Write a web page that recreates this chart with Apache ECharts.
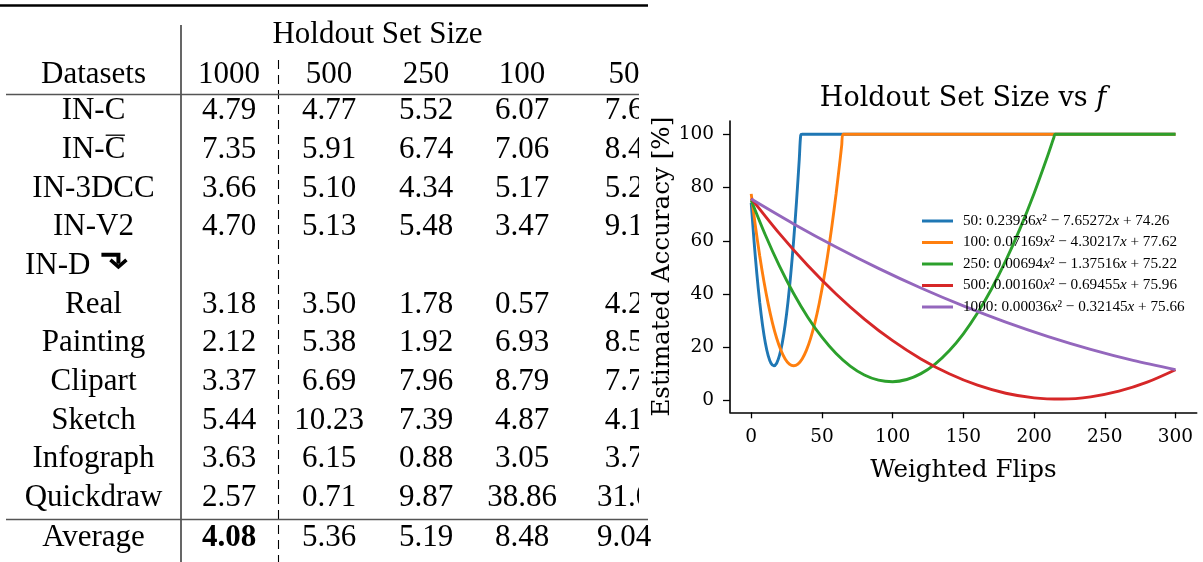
<!DOCTYPE html>
<html><head><meta charset="utf-8">
<script src="https://cdn.jsdelivr.net/npm/echarts@6/dist/echarts.min.js"></script>
<style>html,body{margin:0;padding:0;background:#fff}#c{width:1203px;height:562px}</style>
</head><body><div id="c"></div>
<script>
// ---------------- table data ----------------
const tableGroupHeader = 'Holdout Set Size';
const tableFirstHeader = 'Datasets';
const holdoutSizes = ['1000', '500', '250', '100', '50'];
const datasetNames = ['IN-C', 'IN-C\u0305', 'IN-3DCC', 'IN-V2', 'IN-D', 'Real', 'Painting', 'Clipart', 'Sketch', 'Infograph', 'Quickdraw'];
const rowValues = [
  ['4.79', '4.77', '5.52', '6.07', '7.6'],
  ['7.35', '5.91', '6.74', '7.06', '8.4'],
  ['3.66', '5.10', '4.34', '5.17', '5.2'],
  ['4.70', '5.13', '5.48', '3.47', '9.1'],
  [],
  ['3.18', '3.50', '1.78', '0.57', '4.2'],
  ['2.12', '5.38', '1.92', '6.93', '8.5'],
  ['3.37', '6.69', '7.96', '8.79', '7.7'],
  ['5.44', '10.23', '7.39', '4.87', '4.1'],
  ['3.63', '6.15', '0.88', '3.05', '3.7'],
  ['2.57', '0.71', '9.87', '38.86', '31.0']
];
const groupRows = [4];            // "IN-D" row with turn-down arrow (group header, left aligned)
const averageLabel = 'Average';
const averageValues = ['4.08', '5.36', '5.19', '8.48', '9.04'];
const averageBestIndex = 0;        // bold

// ---------------- chart data ----------------
const chartTitle = 'Holdout Set Size vs ';
const chartTitleVar = 'f';
const xAxisName = 'Weighted Flips';
const yAxisName = 'Estimated Accuracy [%]';
const xTicks = [0, 50, 100, 150, 200, 250, 300];
const yTicks = [0, 20, 40, 60, 80, 100];
const seriesNames = ['50', '100', '250', '500', '1000'];
const coefA = ['0.23936', '0.07169', '0.00694', '0.00160', '0.00036'];
const coefB = ['7.65272', '4.30217', '1.37516', '0.69455', '0.32145'];
const coefC = ['74.26', '77.62', '75.22', '75.96', '75.66'];

const flips50 = [0, 2, 4, 6, 8, 10, 12, 14, 16, 18, 20, 22, 24, 26, 28, 30, 32, 34, 35, 36, 300];
const acc50 = [74.26, 59.91, 47.48, 36.96, 28.36, 21.67, 16.90, 14.04, 13.09, 14.06, 16.95, 21.75, 28.47, 37.10, 47.64, 60.10, 74.48, 90.77, 99.63, 100, 100];
const flips100 = [0, 3, 6, 9, 12, 15, 18, 21, 24, 27, 30, 33, 36, 39, 42, 45, 48, 51, 54, 57, 60, 63, 64, 65, 300];
const acc100 = [77.62, 65.36, 54.39, 44.71, 36.32, 29.22, 23.41, 18.89, 15.66, 13.72, 13.08, 13.72, 15.65, 18.88, 23.39, 29.20, 36.29, 44.68, 54.35, 65.32, 77.57, 91.12, 95.92, 100, 100];
const flips250 = [0, 10, 20, 30, 40, 50, 60, 70, 80, 90, 100, 110, 120, 130, 140, 150, 160, 170, 180, 190, 200, 210, 214, 215, 300];
const acc250 = [75.22, 62.16, 50.49, 40.21, 31.32, 23.81, 17.69, 12.97, 9.62, 7.67, 7.10, 7.93, 10.14, 13.74, 18.72, 25.10, 32.86, 42.01, 52.55, 64.47, 77.79, 92.49, 98.76, 100, 100];
const flips500 = [0, 20, 40, 60, 80, 100, 120, 140, 160, 180, 200, 220, 240, 260, 280, 300];
const acc500 = [75.96, 62.71, 50.74, 40.05, 30.64, 22.51, 15.65, 10.08, 5.79, 2.78, 1.05, 0.60, 1.43, 3.54, 6.93, 11.60];
const flips1000 = [0, 30, 60, 90, 120, 150, 180, 210, 240, 270, 300];
const acc1000 = [75.66, 66.34, 57.67, 49.65, 42.27, 35.54, 29.46, 24.03, 19.25, 15.11, 11.63];

// ---------------- styles / layout ----------------
const seriesColors = ['#1f77b4', '#ff7f0e', '#2ca02c', '#d62728', '#9467bd'];
const seriesX = [flips50, flips100, flips250, flips500, flips1000];
const seriesY = [acc50, acc100, acc250, acc500, acc1000];
const TFONT = "'Liberation Serif', 'Times New Roman', serif";
const CFONT = "'DejaVu Serif', serif";
const TSIZE = 31;
const labelColX = 93.5;
const valueColX = [229, 329, 426, 522, 624];
const firstRowY = 111, rowStep = 38.7;

const measureCtx = document.createElement('canvas').getContext('2d');
function textWidth(t, size, family, weight) {
  measureCtx.font = (weight || 'normal') + ' ' + size + 'px ' + family;
  return measureCtx.measureText(t).width;
}
function T(x, y, text, extra) {
  return {
    type: 'text', x: x, y: y, z: 1, silent: true,
    style: Object.assign({ text: text, fontFamily: TFONT, fontSize: TSIZE, fill: '#000', align: 'center', verticalAlign: 'middle' }, extra || {})
  };
}
function L(x1, y1, x2, y2, w, color, dash) {
  return { type: 'line', z: 1, silent: true, shape: { x1: x1, y1: y1, x2: x2, y2: y2 },
    style: { stroke: color || '#000', lineWidth: w, lineDash: dash || null } };
}

const els = [];
els.push(L(0, 5.5, 648, 5.5, 2.6));
els.push(L(181, 25, 181, 562, 1.2));
els.push(L(278.5, 60, 278.5, 562, 1.1, '#000', [9, 6]));
els.push(L(6, 94.5, 648, 94.5, 1.6, '#555'));
els.push(L(6, 519.5, 648, 519.5, 1.6, '#555'));
els.push(T(377.5, 35, tableGroupHeader));
els.push(T(labelColX, 75, tableFirstHeader));
holdoutSizes.forEach((h, j) => els.push(T(valueColX[j], 75, h)));
datasetNames.forEach((name, i) => {
  const y = firstRowY + i * rowStep;
  if (groupRows.indexOf(i) >= 0) {
    els.push(T(25, y, name, { align: 'left' }));
    const ax = 25 + textWidth(name, TSIZE, TFONT) + 11;
    // turn-down arrow icon
    els.push({ type: 'polyline', z: 1, silent: true,
      shape: { points: [[ax, y - 11], [ax + 17, y - 11], [ax + 17, y - 2]] },
      style: { stroke: '#000', lineWidth: 4, fill: null, lineJoin: 'miter' } });
    els.push({ type: 'polyline', z: 1, silent: true,
      shape: { points: [[ax + 9, y - 6], [ax + 17, y + 1], [ax + 25, y - 6]] },
      style: { stroke: '#000', lineWidth: 3.6, fill: null, lineJoin: 'miter' } });
  } else if (name.indexOf('\u0305') >= 0) {
    const plain = name.replace('\u0305', '');
    els.push(T(labelColX, y, plain));
    const w = textWidth(plain, TSIZE, TFONT);
    const wl = textWidth(plain.slice(-1), TSIZE, TFONT);
    const right = labelColX + w / 2;
    els.push(L(right - wl + 1, y - 14.5, right - 0.5, y - 14.5, 1.3));
  } else {
    els.push(T(labelColX, y, name));
  }
  rowValues[i].forEach((v, j) => els.push(T(valueColX[j], y, v)));
});
els.push(T(labelColX, 538, averageLabel));
averageValues.forEach((v, j) => els.push(T(valueColX[j], 538, v, j === averageBestIndex ? { fontWeight: 'bold' } : {})));
// the chart panel covers the right edge of the table
els.push({ type: 'rect', z: 2, silent: true, shape: { x: 639, y: 14, width: 564, height: 494 }, style: { fill: '#fff' } });
// chart title
els.push({ type: 'text', z: 3, silent: true, x: 963, y: 99,
  style: { text: '{a|' + chartTitle + '}{b|' + chartTitleVar + '}', align: 'center', verticalAlign: 'middle',
    rich: { a: { fontFamily: CFONT, fontSize: 27, fill: '#000' }, b: { fontFamily: CFONT, fontStyle: 'italic', fontSize: 27, fill: '#000' } } } });

const chart = echarts.init(document.getElementById('c'));
chart.setOption({
  animation: false,
  backgroundColor: '#fff',
  grid: { left: 730, top: 121, width: 466.7, height: 291.3, outerBoundsMode: 'none' },
  xAxis: {
    type: 'value', min: -15, max: 315, z: 5,
    axisLine: { show: true, onZero: false, lineStyle: { color: '#000', width: 1.6 } },
    axisTick: { show: true, customValues: xTicks, length: 6, lineStyle: { color: '#000', width: 1.3 } },
    axisLabel: { customValues: xTicks, fontFamily: CFONT, fontSize: 18.5, color: '#000', margin: 15 },
    splitLine: { show: false },
    name: xAxisName, nameLocation: 'middle', nameGap: 46,
    nameTextStyle: { fontFamily: CFONT, fontSize: 24.6, color: '#000' }
  },
  yAxis: {
    type: 'value', min: -4.38, max: 104.97, z: 5,
    axisLine: { show: true, onZero: false, lineStyle: { color: '#000', width: 1.6 } },
    axisTick: { show: true, customValues: yTicks, length: 7, lineStyle: { color: '#000', width: 1.3 } },
    axisLabel: { customValues: yTicks, fontFamily: CFONT, fontSize: 18.5, color: '#000', margin: 16 },
    splitLine: { show: false },
    name: yAxisName, nameLocation: 'middle', nameGap: 55,
    nameTextStyle: { fontFamily: CFONT, fontSize: 24.6, color: '#000' }
  },
  legend: {
    orient: 'vertical', left: 922, top: 213, padding: 0, itemGap: 5.5, z: 7,
    itemWidth: 31, itemHeight: 3, icon: 'rect', selectedMode: false,
    data: seriesNames,
    formatter: function (name) {
      const k = seriesNames.indexOf(name);
      return '{n|' + name + ': ' + coefA[k] + '}{i|x}{n|\u00B2 \u2212 ' + coefB[k] + '}{i|x}{n| + ' + coefC[k] + '}';
    },
    textStyle: {
      padding: [0, 0, 0, 5], lineHeight: 16,
      rich: {
        n: { fontFamily: TFONT, fontSize: 15.2, color: '#000', lineHeight: 16 },
        i: { fontFamily: TFONT, fontStyle: 'italic', fontSize: 15.2, color: '#000', lineHeight: 16 }
      }
    }
  },
  series: seriesNames.map((n, k) => ({
    name: n, type: 'line', z: 6, showSymbol: false, symbol: 'none', silent: true,
    smooth: 0.3,
    color: seriesColors[k],
    lineStyle: { color: seriesColors[k], width: 2.9 },
    data: seriesX[k].map((x, i) => [x, seriesY[k][i]])
  })),
  graphic: { elements: els }
});
</script></body></html>
